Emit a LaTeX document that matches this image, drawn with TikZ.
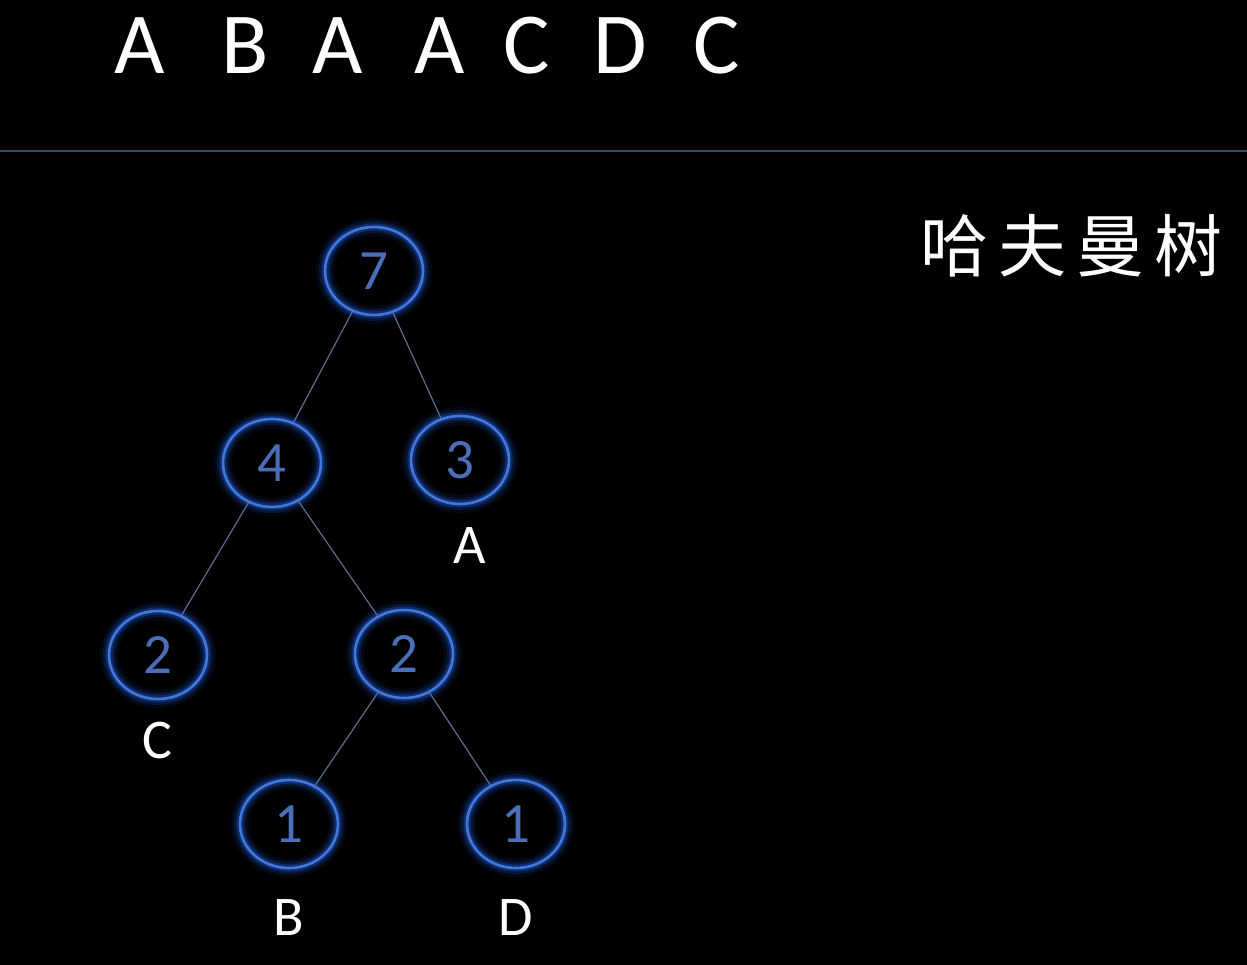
\documentclass[tikz,border=0pt]{standalone}
\usepackage{fontspec}
\setmainfont{Carlito}
\newfontfamily\cjk[LetterSpace=15]{Noto Sans CJK SC}
\usetikzlibrary{shapes.geometric}
\definecolor{ring}{HTML}{4078DC}
\definecolor{glowc}{HTML}{1F56D0}
\definecolor{digit}{HTML}{4A6FB8}
\definecolor{edgec}{HTML}{5E6C8C}
\definecolor{rule}{HTML}{3A4868}
\tikzset{
  x=1pt,y=-1pt,
  tnode/.style={ellipse, minimum width=98, minimum height=88, inner sep=0,
    draw=ring, line width=2.6,
    preaction={draw=glowc, line width=18, opacity=0.10},
    preaction={draw=glowc, line width=12, opacity=0.18},
    preaction={draw=glowc, line width=7, opacity=0.35},
    text=digit, font=\fontsize{57}{57}\selectfont},
  leaf/.style={text=white, font=\fontsize{56}{56}\selectfont, inner sep=0},
  seq/.style={text=white, font=\fontsize{87}{87}\selectfont, inner sep=0},
  edge/.style={draw=edgec, line width=1.2}
}
\begin{document}
\begin{tikzpicture}
\fill[black] (0,0) rectangle (1247,965);
\useasboundingbox (0,0) rectangle (1247,965);
% top sequence
\node[seq] (s1) at (140,46) {A};
\node[seq] (s2) at (245,46) {B};
\node[seq] (s3) at (338,46) {A};
\node[seq] (s4) at (440,46) {A};
\node[seq] (s5) at (527,46) {C};
\node[seq] (s6) at (620,46) {D};
\node[seq] (s7) at (717,46) {C};
% rule
\coordinate (r1) at (0,151);
\coordinate (r2) at (1247,151);
\draw[draw=rule, line width=2] (r1) -- (r2);
% title
\node[text=white, anchor=west, inner sep=0, font=\cjk\fontsize{68}{68}\selectfont] (title) at (920,246) {哈夫曼树};
% tree
\node[tnode] (n7) at (374,271) {7};
\node[tnode] (n4) at (272,463) {4};
\node[tnode] (n3) at (460,460) {3};
\node[tnode] (n2a) at (158,655) {2};
\node[tnode] (n2b) at (404,654) {2};
\node[tnode] (n1a) at (289,824) {1};
\node[tnode] (n1b) at (516,824) {1};
\draw[edge] (n7) -- (n4);
\draw[edge] (n7) -- (n3);
\draw[edge] (n4) -- (n2a);
\draw[edge] (n4) -- (n2b);
\draw[edge] (n2b) -- (n1a);
\draw[edge] (n2b) -- (n1b);
% leaf labels
\node[leaf] (la) at (470,546) {A};
\node[leaf] (lc) at (157,741) {C};
\node[leaf] (lb) at (289,918) {B};
\node[leaf] (ld) at (516,918) {D};
\end{tikzpicture}
\end{document}
